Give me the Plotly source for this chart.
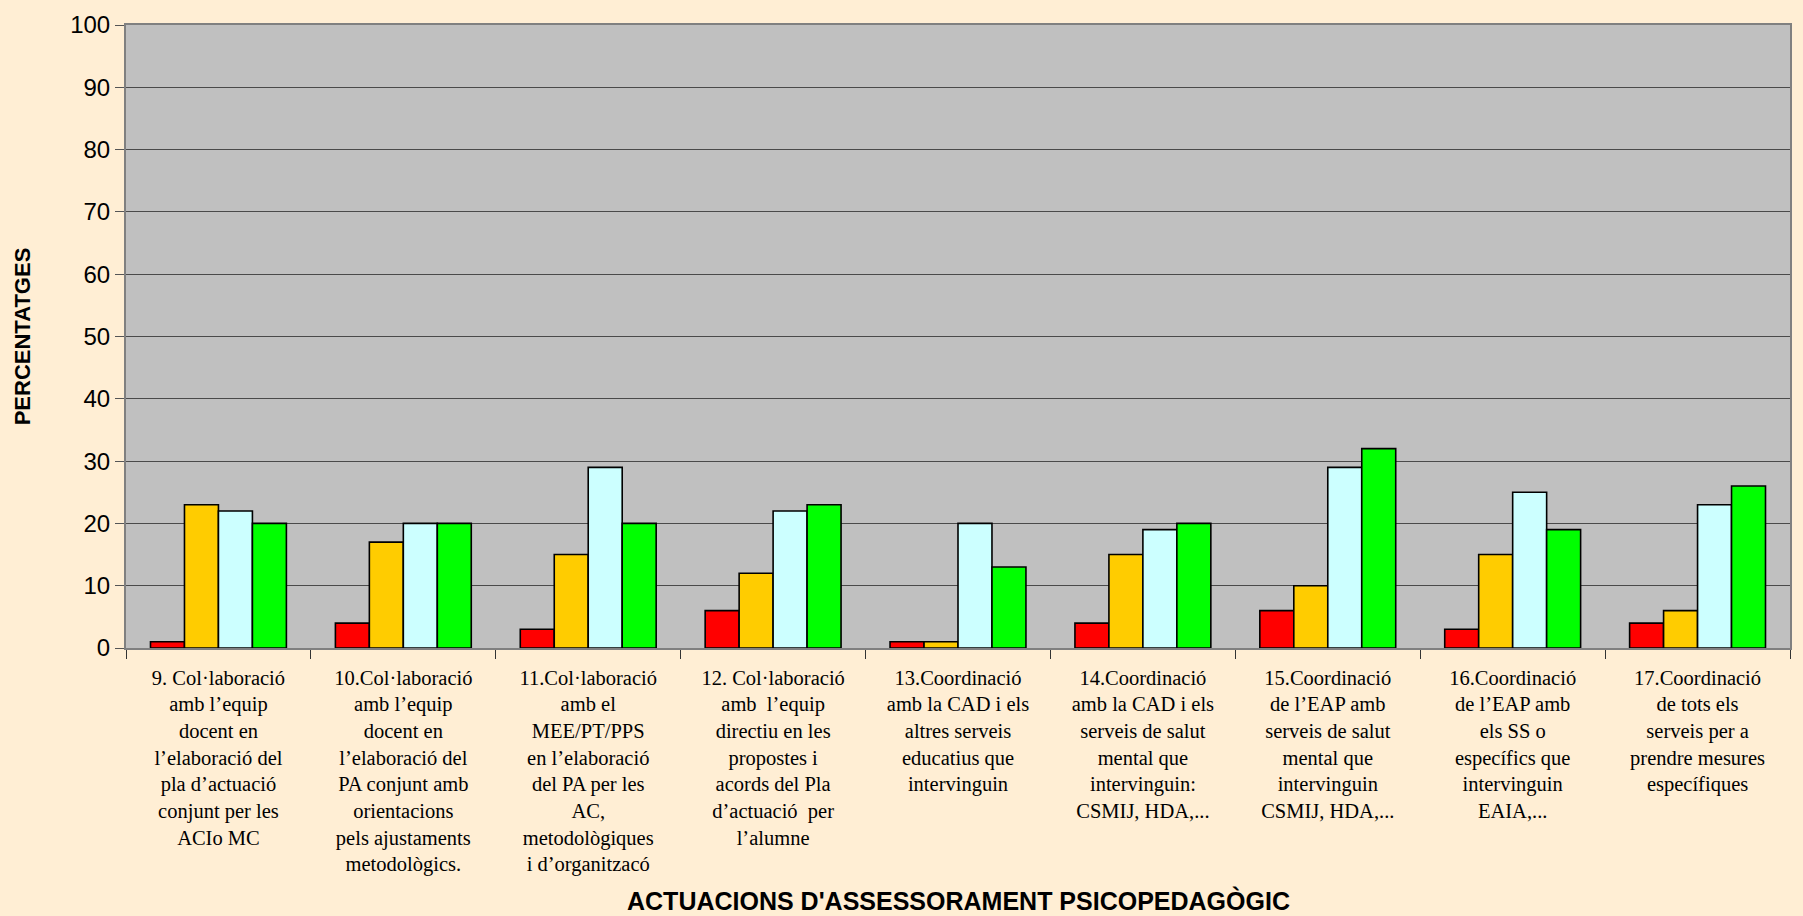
import plotly.graph_objects as go

# Actuacions d'assessorament (one list of label lines per category)
category_lines = [
    ["9. Col·laboració", "amb l’equip", "docent en", "l’elaboració del", "pla d’actuació", "conjunt per les", "ACIo MC"],
    ["10.Col·laboració", "amb l’equip", "docent en", "l’elaboració del", "PA conjunt amb", "orientacions", "pels ajustaments", "metodològics."],
    ["11.Col·laboració", "amb el", "MEE/PT/PPS", "en l’elaboració", "del PA per les", "AC,", "metodològiques", "i d’organitzacó"],
    ["12. Col·laboració", "amb  l’equip", "directiu en les", "propostes i", "acords del Pla", "d’actuació  per", "l’alumne"],
    ["13.Coordinació", "amb la CAD i els", "altres serveis", "educatius que", "intervinguin"],
    ["14.Coordinació", "amb la CAD i els", "serveis de salut", "mental que", "intervinguin:", "CSMIJ, HDA,..."],
    ["15.Coordinació", "de l’EAP amb", "serveis de salut", "mental que", "intervinguin", "CSMIJ, HDA,..."],
    ["16.Coordinació", "de l’EAP amb", "els SS o", "específics que", "intervinguin", "EAIA,..."],
    ["17.Coordinació", "de tots els", "serveis per a", "prendre mesures", "específiques"],
]
categories = ["<br>".join(lines) for lines in category_lines]

# Percentatges per nivell de valoració
gens = [1, 4, 3, 6, 1, 4, 6, 3, 4]
poc = [23, 17, 15, 12, 1, 15, 10, 15, 6]
bastant = [22, 20, 29, 22, 20, 19, 29, 25, 23]
molt = [20, 20, 20, 23, 13, 20, 32, 19, 26]

y_ticks = [0, 10, 20, 30, 40, 50, 60, 70, 80, 90, 100]

series = [
    ("Gens", gens, "#FF0000"),
    ("Poc", poc, "#FFCC00"),
    ("Bastant", bastant, "#CCFFFF"),
    ("Molt", molt, "#00FF00"),
]

fig = go.Figure()
for name, values, color in series:
    fig.add_trace(go.Bar(
        x=categories, y=values, name=name,
        marker=dict(color=color, line=dict(color="#000000", width=1.6)),
    ))

fig.update_layout(
    width=1803, height=916,
    barmode="group", bargap=0.265, bargroupgap=0,
    paper_bgcolor="#FFEED4", plot_bgcolor="#C0C0C0",
    margin=dict(l=126, r=11, t=18, b=268),
    showlegend=False,
    font=dict(family="Liberation Sans, Arial", color="#000000"),
)

fig.update_yaxes(
    range=[0, 100], tickvals=y_ticks, ticktext=[str(v) for v in y_ticks],
    showgrid=True, gridcolor="#4A4A4A", gridwidth=1,
    ticks="outside", ticklen=9, tickcolor="#555555", tickwidth=1,
    showline=True, linecolor="#808080", linewidth=2, mirror=True,
    tickfont=dict(family="Liberation Sans, Arial", size=24, color="#000000"),
    zeroline=False,
)
fig.update_xaxes(
    tickson="boundaries", ticks="outside", ticklen=9, tickcolor="#333333", tickwidth=1,
    ticklabelstandoff=10,
    showline=True, linecolor="#808080", linewidth=2, mirror=True,
    tickfont=dict(family="Liberation Serif, Times New Roman", size=20.5, color="#000000"),
    showgrid=False,
)

fig.add_annotation(
    text="<b>PERCENTATGES</b>", textangle=-90,
    xref="paper", yref="paper", x=-0.062, y=0.5,
    xanchor="center", yanchor="middle", showarrow=False,
    font=dict(family="Liberation Sans, Arial", size=22, color="#000000"),
)
fig.add_annotation(
    text="<b>ACTUACIONS D'ASSESSORAMENT PSICOPEDAGÒGIC</b>",
    xref="paper", yref="paper", x=0.5, y=-0.406,
    xanchor="center", yanchor="middle", showarrow=False,
    font=dict(family="Liberation Sans, Arial", size=25, color="#000000"),
)

fig.write_html("out.html")
